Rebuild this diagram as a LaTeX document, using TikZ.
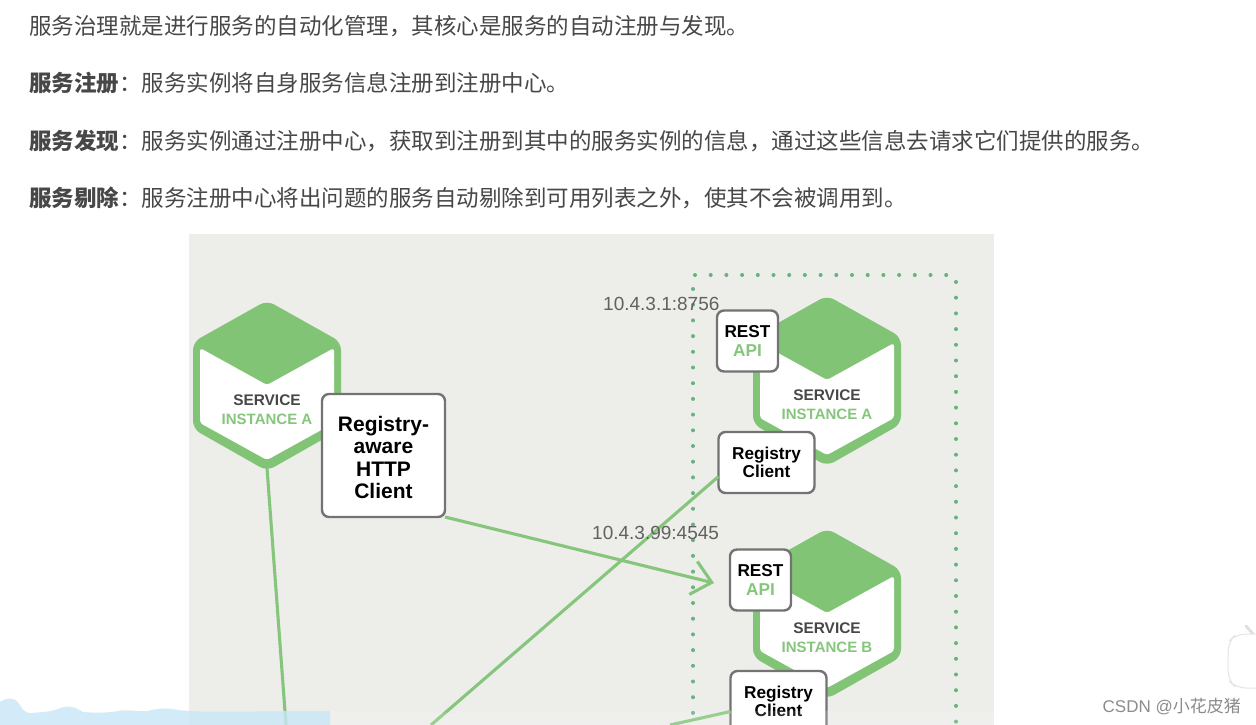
\documentclass[tikz,border=0pt]{standalone}
\usepackage{fontspec}
\usepackage{xcolor}
\setmainfont{Liberation Sans}
\newfontfamily\cjk{Noto Sans CJK SC}
\usetikzlibrary{arrows.meta,positioning}
\definecolor{hexgreen}{HTML}{82C476}
\definecolor{linegreen}{HTML}{86C67C}
\definecolor{panelgray}{HTML}{EDEDEA}
\definecolor{wavecolor}{HTML}{C9E6F7}
\tikzset{
  bodytext/.style={anchor=west, inner sep=0pt, text=black!72, font=\cjk\fontsize{22.5}{27}\selectfont},
  servicebox/.style={draw=black!55, fill=white, line width=2.4pt, rounded corners=7pt, inner sep=0pt, outer sep=0pt, align=center, font=\bfseries\fontsize{17.2}{18.5}\selectfont},
  ipaddr/.style={anchor=west, inner sep=0pt, text=black!62, font=\fontsize{19}{22}\selectfont},
  wire/.style={draw=linegreen, line width=3.1pt},
  hostdots/.style={draw=linegreen!75!teal, line width=4pt, line cap=round, dash pattern=on 0pt off 15.7pt}
}
\begin{document}
\begin{tikzpicture}[x=1pt, y=-1pt]
\clip (0,0) rectangle (1256,725);
\fill[white] (0,0) rectangle (1256,725);
% intro lines
\node[bodytext] (introline) at (29,26) {服务治理就是进行服务的自动化管理，其核心是服务的自动注册与发现。};
\node[bodytext] (regline) at (29,83) {{\bfseries 服务注册}：服务实例将自身服务信息注册到注册中心。};
\node[bodytext] (findline) at (29,141) {{\bfseries 服务发现}：服务实例通过注册中心，获取到注册到其中的服务实例的信息，通过这些信息去请求它们提供的服务。};
\node[bodytext] (dropline) at (29,198) {{\bfseries 服务剔除}：服务注册中心将出问题的服务自动剔除到可用列表之外，使其不会被调用到。};
% gray panel
\fill[panelgray] (189,234) rectangle (994,725);
% dotted host frame
\draw[hostdots] (693,289) -- (693,730);
\draw[hostdots] (695,275) -- (950,275);
\draw[hostdots] (956,282) -- (956,730);
% hexagons
\foreach \hexname/\hx/\hy/\hlabel in {hexA/267/303/INSTANCE A, hexB/827/298/INSTANCE A, hexC/827/531/INSTANCE B} {
  \begin{scope}[shift={(\hx,\hy)}]
    \fill[hexgreen, rounded corners=8pt] (0,-2.5) -- (74,39) -- (74,126) -- (0,168) -- (-74,126) -- (-74,39) -- cycle;
    \fill[white, rounded corners=3pt] (-67,45) -- (0,82) -- (67,45) -- (67,120) -- (0,157) -- (-67,120) -- cycle;
    \coordinate (\hexname-foot) at (0,165);
    \node[inner sep=0pt, text=black!72, font=\bfseries\fontsize{15.4}{16}\selectfont] (\hexname-title) at (0,97) {SERVICE};
    \node[inner sep=0pt, text=linegreen, font=\bfseries\fontsize{15}{16}\selectfont] (\hexname-label) at (0,116.5) {\hlabel};
  \end{scope}
}
% boxes
\node[servicebox, minimum width=123pt, minimum height=123pt, font=\bfseries\fontsize{21}{22.5}\selectfont] (awareclient) at (383.5,455.5) {\rule{0pt}{19.5pt}Registry-\\aware\\HTTP\\Client};
\node[servicebox, minimum width=61pt, minimum height=61pt] (restA) at (747.5,341) {REST\\\textcolor{linegreen}{API}};
\node[servicebox, minimum width=61pt, minimum height=61pt] (restB) at (760.5,580) {REST\\\textcolor{linegreen}{API}};
\node[servicebox, minimum width=96pt, minimum height=61pt] (clientA) at (766.5,462.5) {Registry\\Client};
\node[servicebox, minimum width=96pt, minimum height=61pt] (clientB) at (778.5,701.5) {Registry\\Client};
% connectors
\coordinate (footA) at (286,725);
\coordinate (footB) at (431,725);
\coordinate (footC) at (670,725);
\draw[wire] (hexA-foot) -- (footA);
\draw[wire] ([yshift=-14pt]clientA.west) -- (footB);
\draw[wire] ([yshift=-10pt]clientB.west) -- (footC);
\draw[wire, -{Straight Barb[length=19pt, width=34pt]}] (awareclient.south east) -- ([shift={(-16,3)}]restB.west);
% addresses
\node[ipaddr] (addrA) at (603,304) {10.4.3.1:8756};
\node[ipaddr] (addrB) at (592,533) {10.4.3.99:4545};
% page overlay at the foot
\fill[wavecolor, opacity=0.8] (0,725) -- (0,702) .. controls (5,698) and (14,697) .. (18,702) .. controls (22,708) and (24,714) .. (32,713) .. controls (42,712) and (50,712) .. (58,709) .. controls (66,705) and (74,706) .. (83,712) .. controls (95,713) and (108,713) .. (118,711) .. controls (128,709) and (138,712) .. (148,711) .. controls (155,709) and (165,707) .. (178,710) .. controls (200,713) and (260,711) .. (330,711) -- (330,725) -- cycle;
\fill[white, opacity=0.15] (330,725) -- (330,711) .. controls (400,716) and (600,708) .. (1256,712) -- (1256,725) -- cycle;
% side widget
\draw[black!12, fill=white, line width=3pt, line cap=round] (1246,626) -- (1253,634);
\draw[black!10, fill=white, line width=1pt, rounded corners=10pt] (1262,634) -- (1236,634) -- (1228,642) -- (1228,680) -- (1236,688) -- (1262,688);
% watermark
\node[anchor=east, inner sep=0pt, text=black!45, font=\fontsize{17}{19}\selectfont] (watermark) at (1241,707) {CSDN @{\cjk 小花皮猪}};
\end{tikzpicture}
\end{document}
